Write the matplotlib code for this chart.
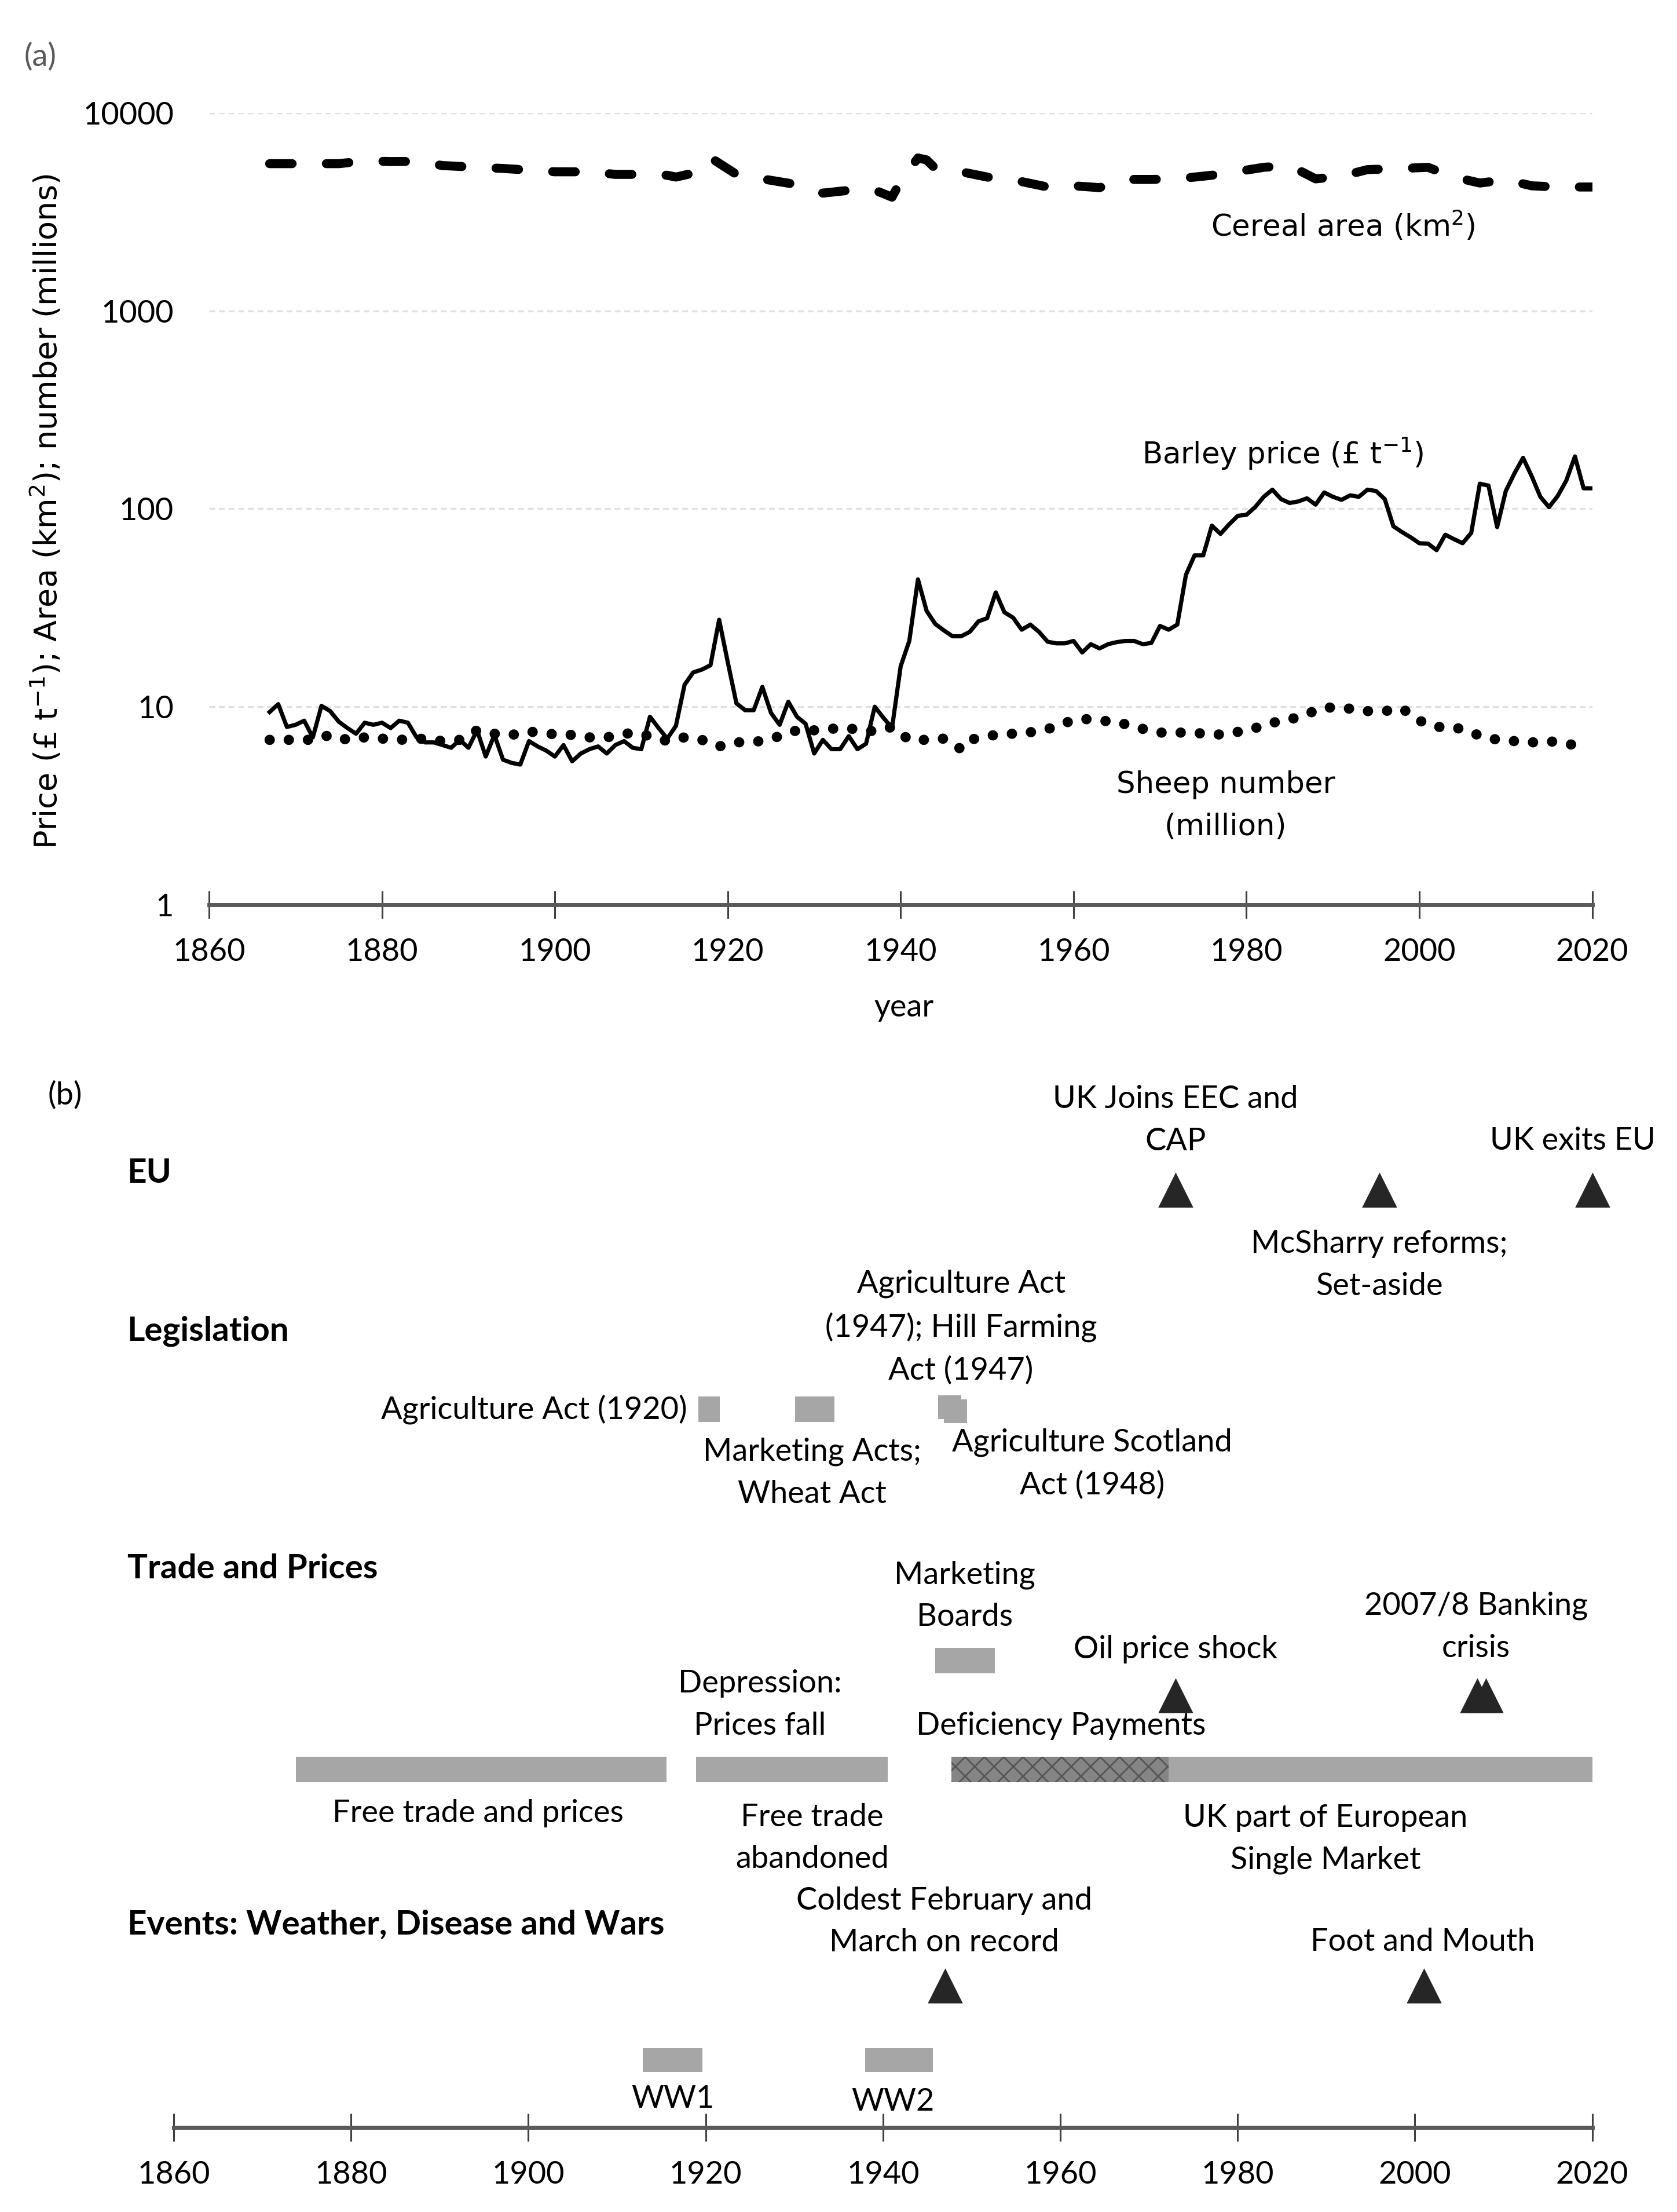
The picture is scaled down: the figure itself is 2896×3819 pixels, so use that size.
import numpy as np
import matplotlib
matplotlib.use('Agg')
import matplotlib.pyplot as plt

plt.rcParams['font.family'] = ['Lato', 'DejaVu Sans']
plt.rcParams['mathtext.fontset'] = 'dejavusans'
plt.rcParams['hatch.linewidth'] = 1.0

# ---------------- panel (a) data ----------------
cereal_year = [1867, 1870, 1875, 1878, 1881, 1884, 1887, 1891, 1894, 1897, 1900, 1904, 1907, 1910,
               1913, 1914, 1916, 1918, 1921, 1924, 1928, 1931, 1934, 1937, 1939, 1940, 1942, 1943,
               1944, 1947, 1950, 1953, 1957, 1960, 1963, 1966, 1969, 1972, 1976, 1979, 1982, 1985,
               1988, 1991, 1994, 1998, 2001, 2004, 2007, 2010, 2013, 2016, 2020]
cereal_area = [5550, 5550, 5550, 5730, 5690, 5700, 5430, 5320, 5250, 5150, 5050, 5050, 4900, 4900,
               4850, 4750, 4970, 5950, 4900, 4650, 4350, 3940, 4070, 4080, 3760, 4530, 5930, 5800,
               5250, 5050, 4750, 4600, 4230, 4290, 4200, 4620, 4620, 4650, 4850, 5070, 5320, 5430,
               4650, 4800, 5180, 5250, 5320, 4750, 4430, 4600, 4290, 4230, 4230]

barley_year = list(range(1867, 2021))
barley_price = [9.4, 10.3, 7.9, 8.1, 8.5, 7.0, 10.1, 9.5, 8.4, 7.8,      # 1867-1876
                7.3, 8.3, 8.1, 8.3, 7.8, 8.5, 8.3, 7.0, 6.6, 6.6,        # 1877-1886
                6.4, 6.2, 6.8, 6.2, 7.6, 5.6, 7.2, 5.4, 5.2, 5.1,        # 1887-1896
                6.7, 6.3, 6.0, 5.6, 6.4, 5.3, 5.8, 6.1, 6.3, 5.8,        # 1897-1906
                6.4, 6.7, 6.2, 6.1, 8.9, 7.8, 6.9, 8.0, 12.9, 14.9,      # 1907-1916
                15.4, 16.2, 27.5, 16.8, 10.4, 9.6, 9.6, 12.6, 9.3, 8.1,  # 1917-1926
                10.6, 8.9, 8.2, 5.8, 6.8, 6.1, 6.1, 7.1, 6.1, 6.5,       # 1927-1936
                10.0, 8.8, 7.8, 16.0, 21.5, 44.0, 30.5, 26.2, 24.3, 22.7,  # 1937-1946
                22.7, 23.9, 27.0, 28.0, 37.8, 30.0, 28.2, 24.5, 26.0, 23.9,  # 1947-1956
                21.3, 20.9, 20.9, 21.5, 18.8, 20.7, 19.7, 20.7, 21.2, 21.5,  # 1957-1966
                21.5, 20.7, 21.0, 25.6, 24.5, 26.0, 46.4, 58.2, 58.2, 82.2,  # 1967-1976
                74.7, 83.5, 92.2, 93.3, 102, 115, 125, 112, 107, 109,        # 1977-1986
                113, 105, 121, 115, 111, 117, 115, 125, 123, 112,            # 1987-1996
                81.6, 76.3, 71.8, 67.0, 66.7, 61.8, 74.0, 70.3, 67.0, 75.5,  # 1997-2006
                134, 131, 80.9, 123, 151, 181, 146, 115, 102, 116,           # 2007-2016
                139, 184, 127, 127]                                          # 2017-2020

sheep_year = [1867, 1869, 1872, 1874, 1876, 1878, 1880, 1882, 1885, 1887, 1889, 1891, 1893, 1895,
              1897, 1899, 1902, 1904, 1906, 1909, 1911, 1913, 1915, 1917, 1919, 1921, 1924, 1926,
              1928, 1930, 1933, 1935, 1937, 1939, 1941, 1943, 1945, 1947, 1948, 1950, 1952, 1954,
              1957, 1959, 1961, 1963, 1965, 1967, 1970, 1972, 1974, 1976, 1978, 1981, 1983, 1985,
              1987, 1989, 1991, 1994, 1996, 1998, 2000, 2002, 2004, 2006, 2008, 2011, 2013, 2015, 2018]
sheep_number = [6.8, 6.8, 6.8, 7.2, 6.8, 7.0, 6.9, 6.8, 6.9, 6.7, 6.8, 7.6, 7.3, 7.2,
                7.5, 7.3, 7.2, 7.0, 7.0, 7.4, 7.1, 6.7, 7.0, 6.8, 6.3, 6.6, 6.7, 7.1,
                7.6, 7.6, 7.8, 7.7, 7.5, 7.9, 6.8, 6.8, 6.9, 6.1, 6.8, 7.1, 7.3, 7.3,
                7.7, 8.3, 8.7, 8.5, 8.4, 7.9, 7.4, 7.4, 7.4, 7.2, 7.3, 7.8, 8.3, 8.6,
                9.2, 9.9, 9.9, 9.5, 9.5, 9.8, 8.5, 7.9, 7.9, 7.4, 6.9, 6.7, 6.6, 6.7, 6.4]

year_ticks = [1860, 1880, 1900, 1920, 1940, 1960, 1980, 2000, 2020]
log_ticks = [1, 10, 100, 1000, 10000]

# ---------------- panel (b) data ----------------
eu_years = [1973, 1996, 2020]
legislation_spans = [(1919.2, 1921.6), (1930.1, 1934.5), (1946.2, 1948.8), (1946.9, 1949.5)]
boards_span = (1945.9, 1952.6)
trade_shock_years = [1973, 2007, 2008]
trade_spans = [(1873.8, 1915.6), (1918.9, 1940.5), (1972.2, 2021.5)]
deficiency_span = (1947.7, 1972.2)
event_years = [1947, 2001]
war_spans = [(1912.9, 1919.6), (1938.0, 1945.6)]

# layout grid of the reference (about 1/2.44 of output pixels)
W, H = 1187.0, 1565.0
def fx(x): return x / W
def fy(y): return 1 - y / H

FS = 19.5      # annotation text
TFS = 19.5     # tick labels
GREY = '#a6a6a6'
TRI = '#262626'

fig = plt.figure(figsize=(14.48, 19.095), dpi=200)

def style_time_axis(ax):
    for s in ['top', 'right', 'left']:
        ax.spines[s].set_visible(False)
    ax.spines['bottom'].set_color('#595959')
    ax.spines['bottom'].set_linewidth(2.5)
    ax.set_xlim(1860, 2020)
    ax.set_xticks(year_ticks)
    ax.tick_params(axis='x', direction='inout', length=17, width=1.1, color='#404040',
                   labelsize=TFS, pad=12)

# ---------------- panel (a) ----------------
axa = fig.add_axes([fx(148), fy(640), fx(1127) - fx(148), fy(80) - fy(640)])
axa.set_yscale('log')
axa.set_ylim(1, 10000)
style_time_axis(axa)
axa.set_yticks(log_ticks)
axa.set_yticklabels([str(v) for v in log_ticks])
axa.minorticks_off()
axa.tick_params(axis='y', length=0, labelsize=TFS, pad=22)
axa.yaxis.grid(True, color='#e0e0e0', lw=1.2, ls=(0, (3, 2)))
axa.set_axisbelow(True)

axa.plot(cereal_year, cereal_area, color='black', lw=5.6, ls=(0, (2.5, 3.8)),
         dash_capstyle='round')
axa.plot(barley_year, barley_price, color='black', lw=2.6)
axa.plot(sheep_year, sheep_number, color='black', lw=6.4, ls=(0, (0.01, 1.85)),
         dash_capstyle='round')

axa.text(1991.2, 2690, 'Cereal area (km$^{2}$)', ha='center', va='center',
         fontsize=18.5, family='DejaVu Sans')
axa.text(1984.2, 190, 'Barley price (£ t$^{-1}$)', ha='center', va='center',
         fontsize=18.5, family='DejaVu Sans')
axa.text(1977.6, 3.15, 'Sheep number\n(million)', ha='center', va='center',
         fontsize=18.5, family='DejaVu Sans', linespacing=1.6)

fig.text(fx(33), fy(362), 'Price (£ t$^{-1}$); Area (km$^{2}$); number (millions)',
         rotation=90, ha='center', va='center', fontsize=19.5, family='DejaVu Sans')
fig.text(fx(640), fy(713), 'year', ha='center', va='center', fontsize=FS)
fig.text(fx(17), fy(40), '(a)', ha='left', va='center', fontsize=FS, color='#595959')

# ---------------- panel (b) ----------------
axb = fig.add_axes([fx(123), fy(1505), fx(1127) - fx(123), fy(760) - fy(1505)])
style_time_axis(axb)
axb.set_ylim(1505, 760)
axb.set_yticks([])

fig.text(fx(34), fy(775), '(b)', ha='left', va='center', fontsize=FS)
for label, ypos in [('EU', 830), ('Legislation', 942), ('Trade and Prices', 1110),
                    ('Events: Weather, Disease and Wars', 1362)]:
    fig.text(fx(90), fy(ypos), label, ha='left', va='center', fontsize=21, weight='bold')

def spans(ax, sp, ycen, h, **kw):
    ax.barh([ycen] * len(sp), [e - s for s, e in sp], left=[s for s, e in sp],
            height=h, **kw)

# EU
axb.plot(eu_years, [842] * len(eu_years), '^', ms=20, color=TRI, clip_on=False)

# Legislation
spans(axb, legislation_spans[:2], 997, 18, color=GREY)
spans(axb, legislation_spans[2:3], 995.5, 17, color=GREY)
spans(axb, legislation_spans[3:], 998.5, 17, color=GREY)

# Trade and prices
spans(axb, [boards_span], 1175, 18, color=GREY)
axb.plot(trade_shock_years, [1200] * len(trade_shock_years), '^', ms=20, color=TRI)
spans(axb, trade_spans, 1252, 18, color=GREY)
spans(axb, [deficiency_span], 1252, 18, color='#858585', hatch='xx',
      edgecolor='#555555', lw=0)

# Events
axb.plot(event_years, [1405] * len(event_years), '^', ms=20, color=TRI)
spans(axb, war_spans, 1457.5, 17, color=GREY)

notes = [
    ('UK Joins EEC and\nCAP', 1973.0, 792.5, 'center'),
    ('UK exits EU', 2017.8, 807, 'center'),
    ('McSharry reforms;\nSet-aside', 1996.0, 895, 'center'),
    ('Agriculture Act (1920)', 1917.9, 997, 'right'),
    ('Agriculture Act\n(1947); Hill Farming\nAct (1947)', 1948.8, 939, 'center'),
    ('Marketing Acts;\nWheat Act', 1932.0, 1042, 'center'),
    ('Agriculture Scotland\nAct (1948)', 1963.6, 1035.5, 'center'),
    ('Marketing\nBoards', 1949.2, 1129, 'center'),
    ('Oil price shock', 1973.0, 1167, 'center'),
    ('2007/8 Banking\ncrisis', 2006.9, 1151, 'center'),
    ('Depression:\nPrices fall', 1926.1, 1206, 'center'),
    ('Deficiency Payments', 1960.1, 1221, 'center'),
    ('Free trade and prices', 1894.3, 1283, 'center'),
    ('Free trade\nabandoned', 1932.0, 1300.5, 'center'),
    ('UK part of European\nSingle Market', 1989.9, 1301, 'center'),
    ('Coldest February and\nMarch on record', 1946.9, 1359.5, 'center'),
    ('Foot and Mouth', 2000.9, 1374, 'center'),
    ('WW1', 1916.3, 1485, 'center'),
    ('WW2', 1941.1, 1487, 'center'),
]
for txt, xv, yv, ha in notes:
    axb.text(xv, yv, txt, ha=ha, va='center', fontsize=FS, linespacing=1.58, clip_on=False)

fig.savefig('out.png', dpi=200)
